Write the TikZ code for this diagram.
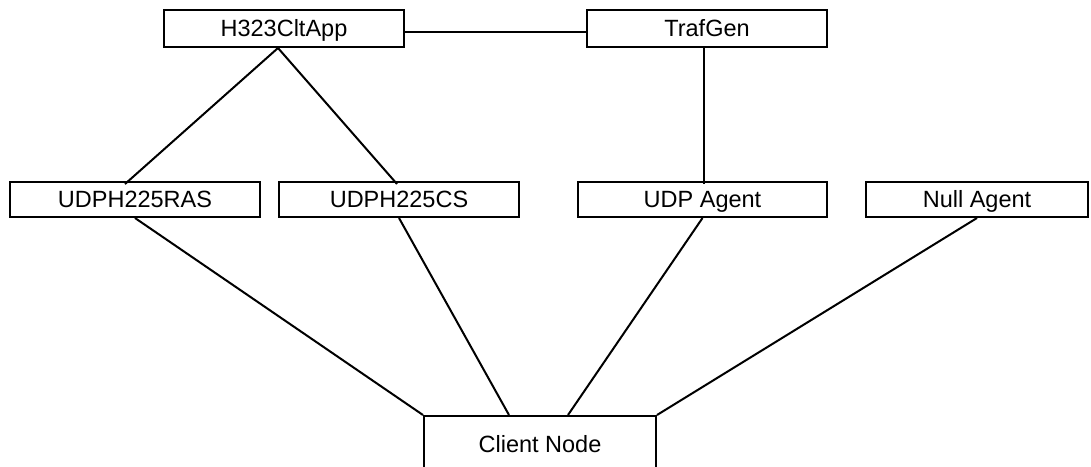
\documentclass[tikz,border=0pt]{standalone}
\usepackage{fontspec}
\setmainfont{Liberation Sans}
\begin{document}
\begin{tikzpicture}[x=1pt,y=-1pt,
  box/.style={draw, line width=2pt, rectangle, inner sep=0pt, text height=16pt, text depth=0pt, minimum height=37pt, font=\fontsize{23.5}{26}\selectfont},
  link/.style={line width=2pt}]
\useasboundingbox (0,0) rectangle (1091,466);
\clip (0,0) rectangle (1091,466);
\node[box, minimum width=240pt, minimum height=37pt] (h323) at (284,28.5) {H323CltApp};
\node[box, minimum width=240pt, minimum height=37pt] (traf) at (707,28.5) {TrafGen};
\node[box, minimum width=250pt, minimum height=35pt] (ras) at (135,199.5) {UDPH225RAS};
\node[box, minimum width=240pt, minimum height=35pt] (cs) at (399,199.5) {UDPH225CS};
\node[box, minimum width=249pt, minimum height=35pt] (udp) at (702.5,199.5) {UDP Agent};
\node[box, minimum width=222pt, minimum height=35pt] (null) at (977,199.5) {Null Agent};
\node[box, minimum width=232pt, minimum height=56pt] (client) at (540,444) {Client Node};
\draw[link] ([yshift=-3pt]h323.east) -- ([yshift=-3pt]traf.west);
\draw[link] ([xshift=-6pt]h323.south) -- ([xshift=-10pt,yshift=-3pt]ras.north);
\draw[link] ([xshift=-6pt]h323.south) -- ([xshift=-2pt,yshift=-3pt]cs.north);
\draw[link] ([xshift=-3pt]traf.south) -- ([xshift=1.5pt,yshift=-3pt]udp.north);
\draw[link] (ras.south) -- (client.north west);
\draw[link] (cs.south) -- ([xshift=-31pt]client.north);
\draw[link] (udp.south) -- ([xshift=28pt]client.north);
\draw[link] (null.south) -- (client.north east);
\end{tikzpicture}
\end{document}
